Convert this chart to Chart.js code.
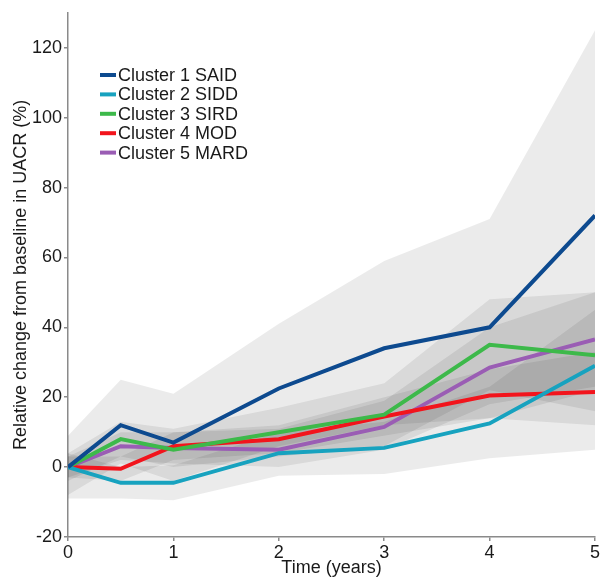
<!DOCTYPE html>
<html>
<head>
<meta charset="utf-8">
<script src="https://cdn.jsdelivr.net/npm/chart.js@4"></script>
<style>
  body { margin: 0; background: #fff; }
  #wrap { width: 602px; height: 585px; }
</style>
</head>
<body>
<div id="wrap"><canvas id="GrafUACR"></canvas></div>
<script>
// Years of follow-up
var years = [0, 0.5, 1, 2, 3, 4, 5];
var yTicks = [-20, 0, 20, 40, 60, 80, 100, 120];

var names = ['Cluster 1 SAID', 'Cluster 2 SIDD', 'Cluster 3 SIRD', 'Cluster 4 MOD', 'Cluster 5 MARD'];
var colors = ['#0d4a8f', '#17a2bf', '#3db94a', '#f2141c', '#9a5db4'];

// Mean relative change (%)
var said = [0, 12, 7, 22.5, 34, 40, 72];
var sidd = [0, -4.5, -4.5, 4, 5.5, 12.5, 29];
var sird = [0, 8, 5, 10, 15, 35, 32];
var mod  = [0, -0.5, 6, 8, 14.5, 20.5, 21.5];
var mard = [0, 6, 5.5, 5, 11.5, 28.5, 36.5];

// Confidence bands (lower / upper)
var saidLo = [-8, 1, -4, 6, 12, 14, 22];
var saidHi = [9, 25, 21, 41, 59, 71, 125];
var siddLo = [-9, -9, -9.5, -2.5, -2, 2.5, 5];
var siddHi = [4, 0, 0.5, 10, 13, 23, 45];
var sirdLo = [-4, 3, 0, 3, 6, 22, 16];
var sirdHi = [4, 13, 11, 17, 24, 48, 50];
var modLo  = [-3, -4, 2, 4, 9, 14, 12];
var modHi  = [3, 3, 10, 12, 20, 28, 33];
var mardLo = [-3, 2, 1, 0, 5, 18, 23];
var mardHi = [3, 10, 10, 11, 19, 40, 50];

var means = [said, sidd, sird, mod, mard];
var lows = [saidLo, siddLo, sirdLo, modLo, mardLo];
var highs = [saidHi, siddHi, sirdHi, modHi, mardHi];

function pts(arr) {
    return arr.map(function (v, i) { return { x: years[i], y: v }; });
}

var datasets = [];
for (var i = 0; i < names.length; i++) {
    datasets.push({
        label: 'lo' + i, data: pts(lows[i]), borderWidth: 0, pointRadius: 0,
        fill: false, order: 1, tension: 0
    });
    datasets.push({
        label: 'hi' + i, data: pts(highs[i]), borderWidth: 0, pointRadius: 0,
        fill: '-1', backgroundColor: 'rgba(0,0,0,0.08)', order: 1, tension: 0
    });
}
for (var j = 0; j < names.length; j++) {
    datasets.push({
        label: names[j], data: pts(means[j]), borderColor: colors[j],
        borderWidth: 4, pointRadius: 0, fill: false, order: 0, tension: 0
    });
}

var fontFam = "'Liberation Sans', Arial, sans-serif";

// legend inside the plot, top left
var legendInside = {
    id: 'legendInside',
    afterDraw: function (chart) {
        var ctx = chart.ctx;
        ctx.save();
        ctx.font = '18px ' + fontFam;
        ctx.textBaseline = 'middle';
        ctx.fillStyle = '#1a1a1a';
        for (var k = 0; k < names.length; k++) {
            var y = 75 + k * 19.4;
            ctx.strokeStyle = colors[k];
            ctx.lineWidth = 4;
            ctx.beginPath();
            ctx.moveTo(100, y);
            ctx.lineTo(116, y);
            ctx.stroke();
            ctx.fillText(names[k], 118, y + 1);
        }
        ctx.restore();
    }
};

var ctx = document.getElementById('GrafUACR').getContext('2d');
var chart = new Chart(ctx, {
    type: 'line',
    data: { datasets: datasets },
    plugins: [legendInside],
    options: {
        responsive: true,
        maintainAspectRatio: false,
        animation: false,
        layout: { padding: { top: 7, right: 7, left: 0, bottom: 0 } },
        plugins: { legend: { display: false }, tooltip: { enabled: false } },
        scales: {
            x: {
                type: 'linear', min: 0, max: 5,
                ticks: { stepSize: 1, color: '#1a1a1a', font: { size: 18, family: fontFam }, padding: 1 },
                grid: { drawOnChartArea: false, tickLength: 4, color: '#8a8a8a', lineWidth: 1.5 },
                border: { color: '#8a8a8a', width: 1.5 },
                title: { display: true, text: 'Time (years)', color: '#1a1a1a',
                         font: { size: 18, family: fontFam }, padding: { top: 0, bottom: 6 } },
                afterFit: function (s) { s.height = 48; }
            },
            y: {
                type: 'linear', min: -20, max: 130,
                afterBuildTicks: function (s) { s.ticks = yTicks.map(function (v) { return { value: v }; }); },
                ticks: { color: '#1a1a1a', font: { size: 18, family: fontFam }, padding: 2 },
                grid: { drawOnChartArea: false, tickLength: 4, color: '#8a8a8a', lineWidth: 1.5 },
                border: { color: '#8a8a8a', width: 1.5 },
                title: { display: true, text: 'Relative change from baseline in UACR (%)', color: '#1a1a1a',
                         font: { size: 18, family: fontFam }, padding: { top: 10, bottom: 0 } },
                afterFit: function (s) { s.width = 68; }
            }
        }
    }
});
</script>
</body>
</html>
